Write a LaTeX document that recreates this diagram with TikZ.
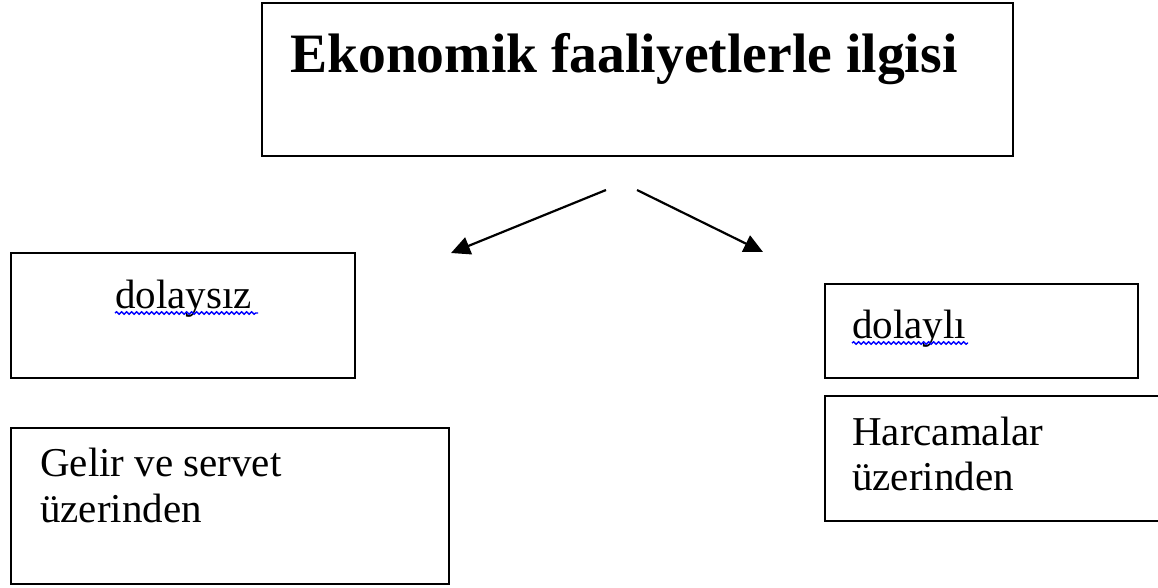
\documentclass[tikz,border=0pt]{standalone}
\usepackage{fontspec}
\setmainfont{Liberation Serif}
\usetikzlibrary{arrows.meta,decorations.pathmorphing}
\begin{document}
\begin{tikzpicture}[x=1pt,y=-1pt,
  box/.style={draw=black,line width=2pt,anchor=north west,inner sep=0pt,outer sep=0pt},
  lbl/.style={anchor=base west,inner sep=0pt,font=\fontsize{41}{46}\selectfont},
  ttl/.style={anchor=base west,inner sep=0pt,font=\fontsize{55.6}{60}\selectfont\bfseries},
  arr/.style={line width=2.2pt,-{Triangle[length=19pt,width=18pt]}},
  squig/.style={blue,line width=1.4pt,decorate,decoration={snake,segment length=5pt,amplitude=1.2pt}}]
\useasboundingbox (0,0) rectangle (1158,587);
% boxes
\node[box,minimum width=751pt,minimum height=153pt] (top) at (262,3) {};
\node[box,minimum width=344pt,minimum height=125pt] (dsz) at (11,253) {};
\node[box,minimum width=438pt,minimum height=156pt] (gelir) at (11,428) {};
\node[box,minimum width=313pt,minimum height=94pt] (dli) at (825,284) {};
\node[box,minimum width=345pt,minimum height=125pt] (harc) at (825,396) {};
% texts
\node[ttl] (ttltext) at (290,72) {Ekonomik faaliyetlerle ilgisi};
\node[lbl] (dsztext) at (115,308) {dolaysız};
\node[lbl] (geltext1) at (40,476) {Gelir ve servet};
\node[lbl] (geltext2) at (40,522) {üzerinden};
\node[lbl] (dlitext) at (852,338) {dolaylı};
\node[lbl] (harctext1) at (852,445) {Harcamalar};
\node[lbl] (harctext2) at (852,490) {üzerinden};
% spelling underlines
\draw[squig] (dsztext.base west) ++(0,5) -- ++(143,0);
\draw[squig] (dlitext.base west) ++(0,5) -- ++(116,0);
% arrows
\coordinate (a1s) at (606,190);
\coordinate (a1e) at (451,253);
\coordinate (a2s) at (637,190);
\coordinate (a2e) at (763,252);
\draw[arr] (a1s) -- (a1e);
\draw[arr] (a2s) -- (a2e);
\end{tikzpicture}
\end{document}
